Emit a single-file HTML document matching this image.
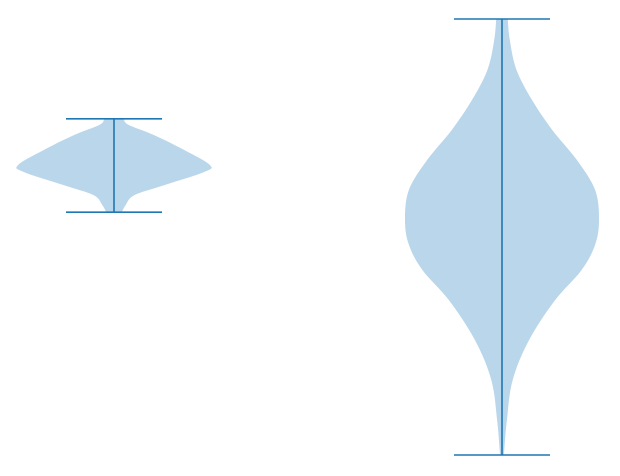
<!DOCTYPE html>
<html><head><meta charset="utf-8"><style>
html,body{margin:0;padding:0;background:#fff;width:620px;height:476px;overflow:hidden}
svg{display:block;font-family:"Liberation Sans",sans-serif}
</style></head><body>
<svg id="chart" width="620" height="476"></svg>
<script>
// Data: positions, value samples and relative density of each violin
const positions = [1, 2];
const violin1Values = [5.57, 5.73, 5.96, 6.19, 6.49, 6.65, 7.0, 7.34, 7.57, 7.71];
const violin1Density = [0.08, 0.12, 0.21, 0.52, 0.93, 0.99, 0.72, 0.41, 0.15, 0.10];
const violin2Values = [0, 0.8, 1.72, 2.64, 3.56, 4.24, 4.82, 5.39, 6.08, 6.77, 7.45, 8.14, 8.83, 9.52, 10];
const violin2Density = [0.02, 0.05, 0.11, 0.28, 0.55, 0.82, 0.96, 1.0, 0.96, 0.77, 0.52, 0.31, 0.15, 0.08, 0.06];

const NS = "http://www.w3.org/2000/svg";
const svg = document.getElementById('chart');
function xScale(p){ return 114 + (p - 1) * 388; }
function yScale(v){ return 455 - v * 43.6; }
const maxHalf = 97, capHalf = 48;

function smoothPath(pts){
  let d = 'M' + pts[0][0].toFixed(1) + ',' + pts[0][1].toFixed(1);
  for (let i = 0; i < pts.length - 1; i++){
    const p0 = pts[Math.max(0, i-1)], p1 = pts[i], p2 = pts[i+1], p3 = pts[Math.min(pts.length-1, i+2)];
    const c1 = [p1[0] + (p2[0]-p0[0])/6, p1[1] + (p2[1]-p0[1])/6];
    const c2 = [p2[0] - (p3[0]-p1[0])/6, p2[1] - (p3[1]-p1[1])/6];
    d += ' C' + c1[0].toFixed(1) + ',' + c1[1].toFixed(1) + ' ' + c2[0].toFixed(1) + ',' + c2[1].toFixed(1) + ' ' + p2[0].toFixed(1) + ',' + p2[1].toFixed(1);
  }
  return d;
}

function drawViolin(pos, vals, dens, name){
  const cx = xScale(pos);
  const right = [], left = [];
  for (let i = 0; i < vals.length; i++){
    const y = yScale(vals[i]);
    right.push([cx + dens[i]*maxHalf, y]);
    left.unshift([cx - dens[i]*maxHalf, y]);
  }
  const d = smoothPath(right) + ' L' + smoothPath(left).slice(1) + ' Z';
  const path = document.createElementNS(NS, 'path');
  path.setAttribute('d', d);
  path.setAttribute('fill', '#bad6ea');
  
  
  svg.appendChild(path);
  const vmin = Math.min(...vals), vmax = Math.max(...vals);
  const lines = [
    [cx, yScale(vmin), cx, yScale(vmax), name + '-range-line'],
    [cx - capHalf, yScale(vmax), cx + capHalf, yScale(vmax), name + '-max-cap'],
    [cx - capHalf, yScale(vmin), cx + capHalf, yScale(vmin), name + '-min-cap']
  ];
  lines.forEach(l => {
    const ln = document.createElementNS(NS, 'line');
    ln.setAttribute('x1', l[0]); ln.setAttribute('y1', l[1]);
    ln.setAttribute('x2', l[2]); ln.setAttribute('y2', l[3]);
    ln.setAttribute('stroke', '#1f77b4');
    ln.setAttribute('stroke-width', '1.6');
    
    
    svg.appendChild(ln);
  });
}
drawViolin(positions[0], violin1Values, violin1Density, 'violin-1');
drawViolin(positions[1], violin2Values, violin2Density, 'violin-2');
</script>
</body></html>
